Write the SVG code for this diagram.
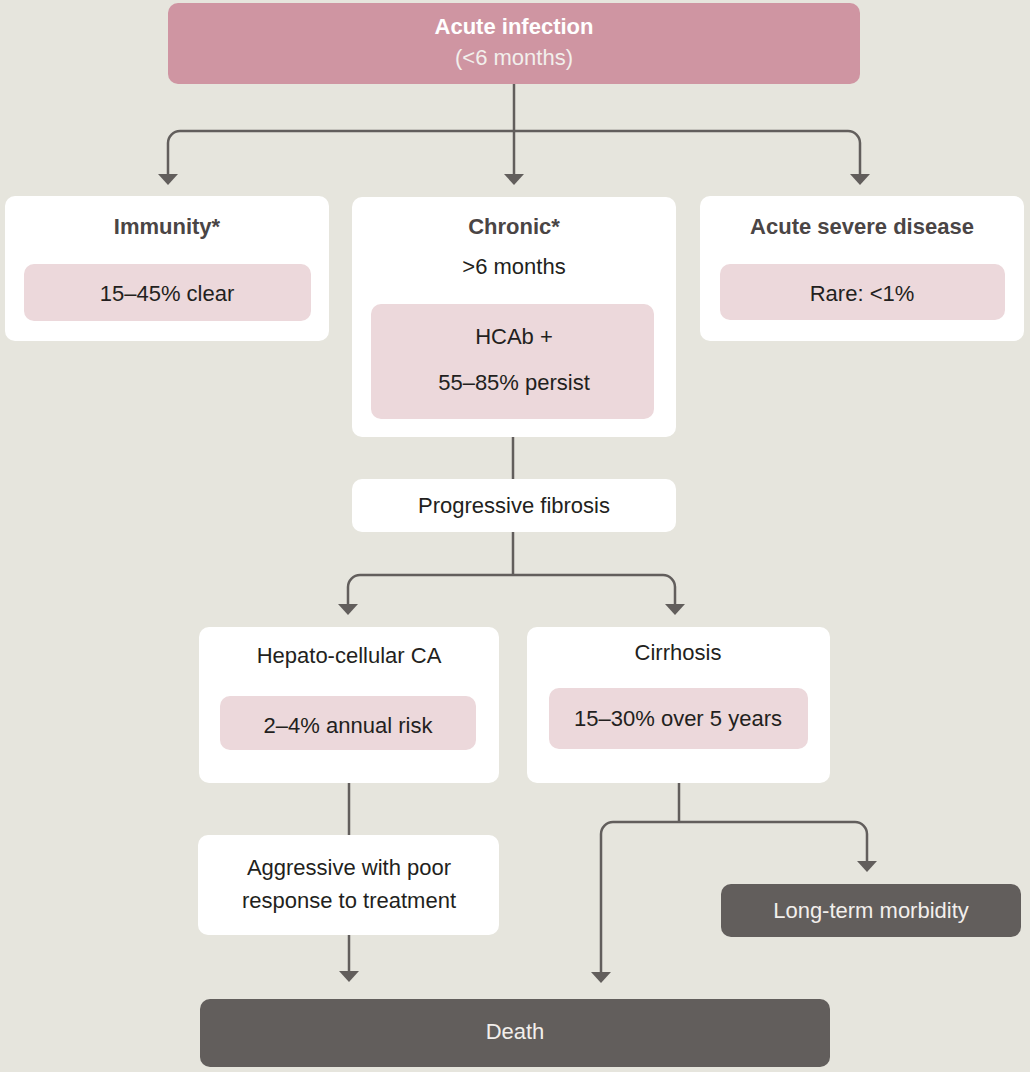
<svg xmlns="http://www.w3.org/2000/svg" width="1030" height="1072" viewBox="0 0 1030 1072">
<style>
text{font-family:"Liberation Sans",Arial,sans-serif;font-size:22px;text-anchor:middle;fill:#231f20}
.hd{font-weight:bold;fill:#4a4545}
.wt{fill:#ffffff}
.lt{fill:#f2efec}
.box{fill:#ffffff}
.pink{fill:#ecd8db}
.dark{fill:#625e5c}
.top{fill:#cf95a2}
.conn path{fill:none;stroke:#625e5c;stroke-width:2.5;marker-end:url(#ah)}
.conn path.plain{marker-end:none}
</style>
<defs>
<marker id="ah" markerUnits="userSpaceOnUse" viewBox="0 -10 11 20" refX="3" refY="0" markerWidth="11" markerHeight="20" orient="auto">
<path d="M0,-10 L11,0 L0,10 z" fill="#625e5c"/>
</marker>
</defs>
<rect width="1030" height="1072" fill="#e6e5dd"/>
<g class="conn" id="connectors">
<path class="plain" d="M514,84 V131"/>
<path d="M514,131 V177"/>
<path d="M514,131 H180 A12,12 0 0 0 168,143 V177"/>
<path d="M514,131 H848 A12,12 0 0 1 860,143 V177"/>
<path class="plain" d="M513,437 V479"/>
<path class="plain" d="M513,532 V575"/>
<path d="M513,575 H360 A12,12 0 0 0 348,587 V607"/>
<path d="M513,575 H663 A12,12 0 0 1 675,587 V607"/>
<path class="plain" d="M349,783 V835"/>
<path d="M349,935 V974"/>
<path class="plain" d="M679,783 V822"/>
<path d="M679,822 H613 A12,12 0 0 0 601,834 V975"/>
<path d="M679,822 H855 A12,12 0 0 1 867,834 V864"/>
</g>
<g id="acute-infection">
<rect class="top" x="168" y="3" width="692" height="81" rx="10"/>
<text class="wt" x="514" y="34" font-weight="bold">Acute infection</text>
<text class="lt" x="514" y="65">(&lt;6 months)</text>
</g>
<g id="immunity">
<rect class="box" x="5" y="196" width="324" height="145" rx="10"/>
<text class="hd" x="167" y="234">Immunity*</text>
<rect class="pink" x="24" y="264" width="287" height="57" rx="10"/>
<text x="167" y="301">15–45% clear</text>
</g>
<g id="chronic">
<rect class="box" x="352" y="197" width="324" height="240" rx="10"/>
<text class="hd" x="514" y="234">Chronic*</text>
<text x="514" y="274">&gt;6 months</text>
<rect class="pink" x="371" y="304" width="283" height="115" rx="10"/>
<text x="514" y="344">HCAb +</text>
<text x="514" y="390">55–85% persist</text>
</g>
<g id="acute-severe">
<rect class="box" x="700" y="196" width="324" height="145" rx="10"/>
<text class="hd" x="862" y="234">Acute severe disease</text>
<rect class="pink" x="720" y="264" width="285" height="56" rx="10"/>
<text x="862" y="301">Rare: &lt;1%</text>
</g>
<g id="progressive-fibrosis">
<rect class="box" x="352" y="479" width="324" height="53" rx="10"/>
<text x="514" y="513">Progressive fibrosis</text>
</g>
<g id="hcc">
<rect class="box" x="199" y="627" width="300" height="156" rx="10"/>
<text x="349" y="663">Hepato-cellular CA</text>
<rect class="pink" x="220" y="696" width="256" height="54" rx="10"/>
<text x="348" y="733">2–4% annual risk</text>
</g>
<g id="cirrhosis">
<rect class="box" x="527" y="627" width="303" height="156" rx="10"/>
<text x="678" y="660">Cirrhosis</text>
<rect class="pink" x="549" y="688" width="259" height="61" rx="10"/>
<text x="678" y="726">15–30% over 5 years</text>
</g>
<g id="aggressive">
<rect class="box" x="198" y="835" width="301" height="100" rx="10"/>
<text x="349" y="875">Aggressive with poor</text>
<text x="349" y="908">response to treatment</text>
</g>
<g id="long-term-morbidity">
<rect class="dark" x="721" y="884" width="300" height="53" rx="10"/>
<text class="lt" x="871" y="918">Long-term morbidity</text>
</g>
<g id="death">
<rect class="dark" x="200" y="999" width="630" height="68" rx="10"/>
<text class="lt" x="515" y="1039">Death</text>
</g>
</svg>
